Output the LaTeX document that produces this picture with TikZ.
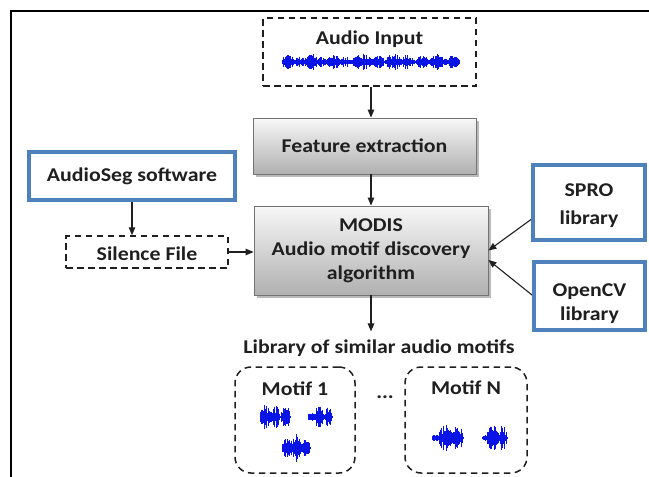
\documentclass[tikz,border=0pt]{standalone}
\usepackage{fontspec}
\setmainfont{Carlito}[FakeStretch=1.12]
\usetikzlibrary{arrows.meta,shadows}
\definecolor{boxblue}{HTML}{4F81BD}
\definecolor{wblue}{RGB}{10,20,230}
\definecolor{ink}{gray}{0.12}

% one burst of a waveform: x0, x1, centre y, amplitude, step
\newcommand\wavebits[5]{%
  \draw[wline] (#1,#3) -- (#2,#3);
  \pgfmathtruncatemacro\wn{(#2-#1)/#5}
  \foreach \k in {0,...,\wn}{
    \pgfmathsetmacro\wx{#1+\k*#5}
    \pgfmathsetmacro\wt{\k/\wn}
    \pgfmathsetmacro\wh{#4*sqrt(sin(180*\wt))*(0.25+0.75*rnd)+0.6}
    \draw[wline] (\wx,#3-\wh) -- (\wx,#3+\wh);
  }}

\begin{document}
\begin{tikzpicture}[x=1pt,y=-1pt,
  every node/.style={font=\fontsize{19.5}{24}\selectfont\bfseries, text=ink, inner sep=0pt},
  dashbox/.style={draw=ink, line width=1.5pt, dash pattern=on 6.5pt off 4.5pt},
  greybox/.style={draw=black!55, line width=0.8pt, top color=gray!6, bottom color=gray!62,
    drop shadow={shadow xshift=2.5pt, shadow yshift=-2.5pt, fill=black!45, opacity=0.6}},
  bluebox/.style={draw=boxblue, line width=4pt, fill=white},
  arr/.style={draw=ink, line width=1.1pt, -{Triangle[length=8pt,width=6.5pt]}},
  wline/.style={draw=wblue, line width=0.55pt},
]
\useasboundingbox (0,0) rectangle (649,477);
\fill[white] (0,0) rectangle (649,477);

% outer frame
\draw[line width=2pt, black] (10.5,477) -- (10.5,11) -- (649,11);

% boxes
\node[dashbox, minimum width=213pt, minimum height=68pt] (input) at (369.5,52) {};
\node (inputlbl) at (369.5,39) {Audio Input};

\node[greybox, minimum width=223pt, minimum height=56pt] (feat) at (364.5,146) {Feature extraction};

\node[greybox, minimum width=234pt, minimum height=89pt, align=center] (modis) at (371,250.5)
  {MODIS\\Audio motif discovery\\algorithm};

\node[bluebox, minimum width=206pt, minimum height=48pt] (seg) at (132,176) {AudioSeg software};
\node[dashbox, minimum width=162pt, minimum height=32pt] (silence) at (147,252) {};
\node (silencelbl) at (147,254) {Silence File};

\node[bluebox, minimum width=112pt, minimum height=75pt] (spro) at (589,202.5) {};
\node (sprolbl) at (589,190) {SPRO};
\node (sprolib) at (589,219) {library};

\node[bluebox, minimum width=111pt, minimum height=68pt] (opencv) at (589.5,296) {};
\node (opencvlbl) at (589.5,292) {OpenCV};
\node (opencvlib) at (589.5,315) {library};

\node (lib) at (379,348) {Library of similar audio motifs};

\node[dashbox, rounded corners=16pt, minimum width=120pt, minimum height=106pt] (m1) at (295,420) {};
\node (m1lbl) at (295,389) {Motif 1};
\node[dashbox, rounded corners=16pt, minimum width=122pt, minimum height=106pt] (mN) at (466,420) {};
\node (mNlbl) at (466,388) {Motif N};
\node (dots) at (385,397) {...};

% connectors
\draw[arr] (input.south -| modis.north) -- (feat.north -| modis.north);
\draw[arr] (feat.south -| modis.north) -- (modis.north);
\draw[arr] (seg.south) -- (silence.north -| seg.south);
\draw[arr] (silence.east) -- (modis.west |- silence.east);
\draw[arr] ([yshift=-17pt]spro.west) -- (modis.east);
\draw[arr] ([yshift=1pt]opencv.west) -- ([yshift=-9.5pt]modis.east);
\draw[arr] (modis.south) -- ([yshift=8pt]modis.south |- lib.north);

% waveforms
\pgfmathsetseed{4711}
\foreach \a/\b/\h in {282/295/7, 295/305/5, 305/318/8, 318/326/5, 326/340/7, 340/352/5,
  352/372/8, 372/385/6, 385/402/8, 402/415/7, 415/430/6, 430/445/7, 445/460/6}{
  \wavebits{\a}{\b}{62}{\h}{0.7}
}
% motif 1
\foreach \a/\b/\h in {260/271/13, 271/280/11, 281/290/12}{ \wavebits{\a}{\b}{417}{\h}{0.6} }
\foreach \a/\b/\h in {308/314/4, 314/324/11, 324/332/10}{ \wavebits{\a}{\b}{417}{\h}{0.6} }
\foreach \a/\b/\h in {282/291/11, 291/301/14, 301/310/8}{ \wavebits{\a}{\b}{448}{\h}{0.6} }
% motif N
\foreach \a/\b/\h in {432/438/3, 438/452/14, 452/463/12}{ \wavebits{\a}{\b}{438}{\h}{0.6} }
\foreach \a/\b/\h in {482/487/3, 487/498/14, 498/507/13}{ \wavebits{\a}{\b}{438}{\h}{0.6} }
\end{tikzpicture}
\end{document}
